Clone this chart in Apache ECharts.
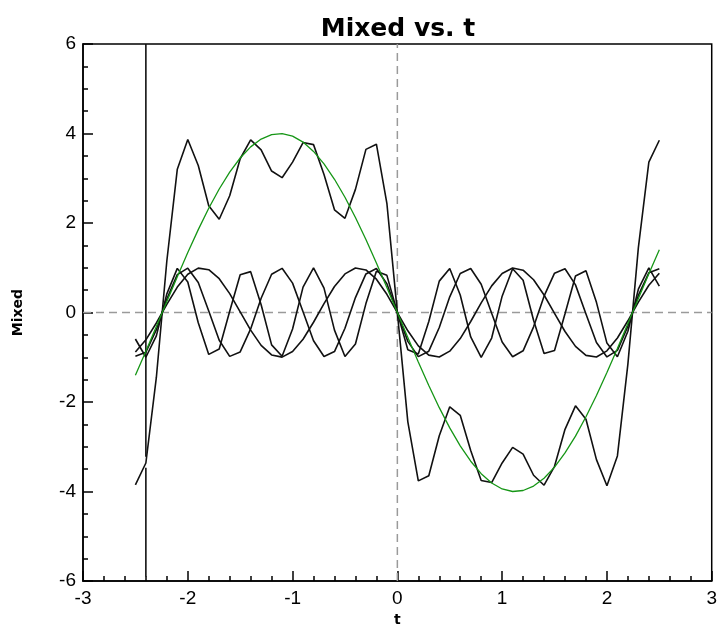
<!DOCTYPE html>
<html><head><meta charset="utf-8">
<script src="https://cdn.jsdelivr.net/npm/echarts/dist/echarts.min.js"></script>
<style>html,body{margin:0;padding:0;background:#fff}#c{width:720px;height:632px}</style>
</head><body><div id="c"></div>
<script>
const t = [-2.5,-2.4,-2.3,-2.2,-2.1,-2.0,-1.9,-1.8,-1.7,-1.6,-1.5,-1.4,-1.3,-1.2,-1.1,-1.0,-0.9,-0.8,-0.7,-0.6,-0.5,-0.4,-0.3,-0.2,-0.1,0,
  0.1,0.2,0.3,0.4,0.5,0.6,0.7,0.8,0.9,1.0,1.1,1.2,1.3,1.4,1.5,1.6,1.7,1.8,1.9,2.0,2.1,2.2,2.3,2.4,2.5];
const mixed = [-3.850,-3.362,-1.450,1.151,3.203,3.868,3.287,2.385,2.084,2.609,3.436,3.858,3.635,3.162,3.013,3.361,3.798,3.752,3.084,2.296,2.106,2.752,3.646,3.761,2.441,0,
  -2.441,-3.761,-3.646,-2.752,-2.106,-2.296,-3.084,-3.752,-3.798,-3.361,-3.013,-3.162,-3.635,-3.858,-3.436,-2.609,-2.084,-2.385,-3.287,-3.868,-3.203,-1.151,1.450,3.362,3.850];
const green = [-1.403,-0.867,-0.313,0.246,0.801,1.340,1.853,2.329,2.761,3.137,3.453,3.702,3.876,3.976,3.998,3.942,3.808,3.600,3.322,2.978,2.577,2.125,1.631,1.106,0.558,0,
  -0.558,-1.106,-1.631,-2.125,-2.577,-2.978,-3.322,-3.600,-3.808,-3.942,-3.998,-3.976,-3.876,-3.702,-3.453,-3.137,-2.761,-2.329,-1.853,-1.340,-0.801,-0.246,0.313,0.867,1.403];
const s3 = [-0.880,-0.609,-0.233,0.184,0.569,0.855,0.992,0.957,0.756,0.423,0.017,-0.392,-0.733,-0.947,-0.996,-0.872,-0.596,-0.217,0.200,0.582,0.863,0.994,0.952,0.745,0.408,0,
  -0.408,-0.745,-0.952,-0.994,-0.863,-0.582,-0.200,0.217,0.596,0.872,0.996,0.947,0.733,0.392,-0.017,-0.423,-0.756,-0.957,-0.992,-0.855,-0.569,-0.184,0.233,0.609,0.880];
const s5 = [-0.976,-0.887,-0.382,0.303,0.846,0.991,0.670,0.034,-0.618,-0.979,-0.880,-0.366,0.319,0.855,0.988,0.657,0.017,-0.631,-0.983,-0.872,-0.351,0.335,0.863,0.985,0.644,0,
  -0.644,-0.985,-0.863,-0.335,0.351,0.872,0.983,0.631,-0.017,-0.657,-0.988,-0.855,-0.319,0.366,0.880,0.979,0.618,-0.034,-0.670,-0.991,-0.846,-0.303,0.382,0.887,0.976];
const s7 = [-0.591,-0.999,-0.522,0.418,0.987,0.682,-0.228,-0.935,-0.815,0.028,0.846,0.914,0.173,-0.722,-0.977,-0.366,0.569,1.000,0.545,-0.392,-0.983,-0.702,0.200,0.925,0.831,0,
  -0.831,-0.925,-0.200,0.702,0.983,0.392,-0.545,-1.000,-0.569,0.366,0.977,0.722,-0.173,-0.914,-0.846,-0.028,0.815,0.935,0.228,-0.682,-0.987,-0.418,0.522,0.999,0.591];
// stray vertical stroke at t = -2.4 (two pieces)
const spikeT = -2.4;
const spikeUpper = [6, -3.22];
const spikeLower = [-3.47, -5.9];
const xTicks = [-3,-2,-1,0,1,2,3];
const yTicks = [-6,-4,-2,0,2,4,6];

const pairs = arr => t.map((x, i) => [x, arr[i]]);
const blackStyle = {color: '#111', width: 1.6};
const dashStyle = {color: '#9a9a9a', width: 1.5, type: [8, 5]};

const chart = echarts.init(document.getElementById('c'), null, {renderer: 'canvas'});
chart.setOption({
  animation: false,
  backgroundColor: '#fff',
  title: {
    text: 'Mixed vs. t', left: 398, top: 17, textAlign: 'center', padding: 0,
    textStyle: {fontFamily: 'DejaVu Sans', fontWeight: 'bold', fontSize: 25, color: '#000'}
  },
  grid: {left: 83, right: 7, top: 44, bottom: 44, show: true, borderColor: '#000', borderWidth: 1.5, backgroundColor: '#fff'},
  xAxis: {
    type: 'value', min: xTicks[0], max: xTicks[xTicks.length - 1], interval: 1,
    name: 't', nameLocation: 'middle', nameGap: 29,
    nameTextStyle: {fontFamily: 'DejaVu Sans', fontWeight: 'bold', fontSize: 14, color: '#000'},
    axisLine: {show: true, onZero: false, lineStyle: {color: '#000', width: 1.5}},
    axisTick: {show: true, inside: true, length: 10, lineStyle: {color: '#000', width: 1.5}},
    minorTick: {show: true, splitNumber: 5, length: 5, lineStyle: {color: '#000', width: 1.5}},
    splitLine: {show: false},
    axisLabel: {fontFamily: 'Liberation Sans', fontSize: 19, color: '#000', margin: 8}
  },
  yAxis: {
    type: 'value', min: yTicks[0], max: yTicks[yTicks.length - 1], interval: 2,
    name: 'Mixed', nameLocation: 'middle', nameGap: 58,
    nameTextStyle: {fontFamily: 'DejaVu Sans', fontWeight: 'bold', fontSize: 14, color: '#000'},
    axisLine: {show: true, onZero: false, lineStyle: {color: '#000', width: 1.5}},
    axisTick: {show: true, inside: true, length: 10, lineStyle: {color: '#000', width: 1.5}},
    minorTick: {show: true, splitNumber: 4, length: 5, lineStyle: {color: '#000', width: 1.5}},
    splitLine: {show: false},
    axisLabel: {fontFamily: 'Liberation Sans', fontSize: 19, color: '#000', margin: 7}
  },
  series: [
    {type: 'line', name: 'zeroX', data: [[0, yTicks[0]], [0, yTicks[yTicks.length - 1]]], symbol: 'none', lineStyle: dashStyle, silent: true, z: 1},
    {type: 'line', name: 'zeroY', data: [[xTicks[0], 0], [xTicks[xTicks.length - 1], 0]], symbol: 'none', lineStyle: dashStyle, silent: true, z: 1},
    {type: 'line', name: 'spike', data: [[spikeT, spikeUpper[0]], [spikeT, spikeUpper[1]], [spikeT, '-'], [spikeT, spikeLower[0]], [spikeT, spikeLower[1]]], symbol: 'none', lineStyle: blackStyle, z: 2},
    {type: 'line', name: 'sin3', data: pairs(s3), symbol: 'none', lineStyle: blackStyle, z: 3},
    {type: 'line', name: 'sin5', data: pairs(s5), symbol: 'none', lineStyle: blackStyle, z: 3},
    {type: 'line', name: 'sin7', data: pairs(s7), symbol: 'none', lineStyle: blackStyle, z: 3},
    {type: 'line', name: 'Mixed', data: pairs(mixed), symbol: 'none', lineStyle: blackStyle, z: 3},
    {type: 'line', name: 'fundamental', data: pairs(green), symbol: 'none', lineStyle: {color: '#169616', width: 1.3}, z: 4}
  ]
});
</script></body></html>
